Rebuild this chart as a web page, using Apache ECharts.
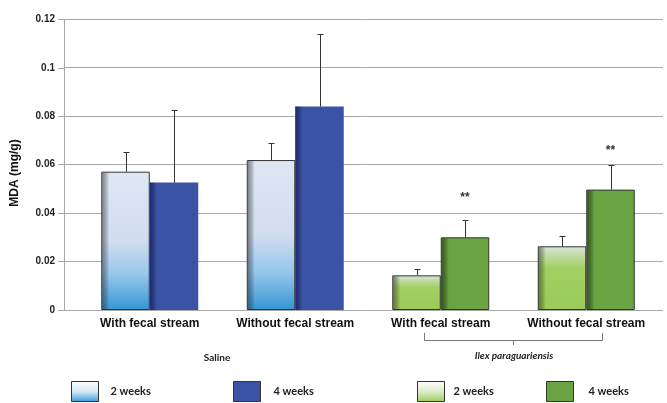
<!DOCTYPE html>
<html>
<head>
<meta charset="utf-8">
<script src="https://cdn.jsdelivr.net/npm/echarts@6/dist/echarts.min.js"></script>
<style>
html,body{margin:0;padding:0;background:#fff;}
#chart{width:667px;height:403px;}
</style>
</head>
<body>
<div id="chart"></div>
<script>
// ---- data ----
const categories = ['With fecal stream', 'Without fecal stream', 'With fecal stream', 'Without fecal stream'];
const saline2w = [0.0571, 0.0619, null, null];
const saline4w = [0.0526, 0.0840, null, null];
const ilex2w = [null, null, 0.0143, 0.0263];
const ilex4w = [null, null, 0.0300, 0.0497];
const err2w = [0.0080, 0.0071, 0.0025, 0.0043];
const err4w = [0.0300, 0.0301, 0.0072, 0.0102];
const sigMarks = ['', '', '**', '**'];
const sigY = [null, null, 0.0464, 0.0656];
const yMin = 0, yMax = 0.12, yInterval = 0.02;
const groupLabels = ['Saline', 'Ilex paraguariensis'];
const legendLabels = ['2 weeks', '4 weeks', '2 weeks', '4 weeks'];

// ---- rendering ----
const BAR_W = 48.5;
const chart = echarts.init(document.getElementById('chart'));
const G = echarts.graphic;
const vGrad = stops => new G.LinearGradient(0, 0, 0, 1, stops.map(s => ({offset: s[0], color: s[1]})));
const hGrad = c => new G.LinearGradient(0, 0, 1, 0, [{offset: 0, color: c}, {offset: 1, color: 'rgba(0,0,0,0)'}]);

const colSal2 = vGrad([[0, '#dfe7f4'], [0.5, '#d2dcef'], [0.74, '#97c8eb'], [1, '#3795d4']]);
const colSal4 = '#3a53a5';
const colIlex2 = vGrad([[0, '#d9e4dc'], [0.33, '#a3d064'], [1, '#9acb58']]);
const colIlex4 = '#6aa342';

const legSal2 = vGrad([[0, '#ffffff'], [0.5, '#d6e8f7'], [1, '#3b9bd8']]);
const legIlex2 = vGrad([[0, '#ffffff'], [0.5, '#dbeccb'], [1, '#9ccc5a']]);

const seriesDefs = [
  {name: 'Saline 2 weeks', data: saline2w, stack: 'w2', color: colSal2, border: '#333', edge: 'rgba(50,55,65,0.55)', side: -1, leg: legSal2, legIdx: 0},
  {name: 'Ilex 2 weeks', data: ilex2w, stack: 'w2', color: colIlex2, border: '#333', edge: 'rgba(40,60,35,0.55)', side: -1, leg: legIlex2, legIdx: 2},
  {name: 'Saline 4 weeks', data: saline4w, stack: 'w4', color: colSal4, border: null, edge: 'rgba(20,25,110,0.7)', side: 1, leg: colSal4, legIdx: 1},
  {name: 'Ilex 4 weeks', data: ilex4w, stack: 'w4', color: colIlex4, border: '#333', edge: 'rgba(30,55,20,0.65)', side: 1, leg: colIlex4, legIdx: 3}
];

const series = seriesDefs.map(d => ({
  type: 'bar', name: d.name, xAxisIndex: 1, yAxisIndex: 1,
  data: d.data, stack: d.stack, barWidth: BAR_W, barGap: '0%',
  itemStyle: {color: d.color, borderColor: d.border || 'transparent', borderWidth: d.border ? 1 : 0},
  silent: true
}));

// left-edge shading overlay
const edgeData = [];
seriesDefs.forEach((d, si) => d.data.forEach((v, i) => { if (v != null) edgeData.push([i, v, d.side, si]); }));
series.push({
  type: 'custom', xAxisIndex: 1, yAxisIndex: 1, silent: true, z: 3,
  data: edgeData,
  renderItem: (params, api) => {
    const idx = api.value(0), v = api.value(1), side = api.value(2), si = api.value(3);
    const p0 = api.coord([idx, 0]), p1 = api.coord([idx, v]);
    const x = side < 0 ? p0[0] - BAR_W : p0[0];
    const off = seriesDefs[si].border ? 1 : 0;
    return {type: 'rect', shape: {x: x + off, y: p1[1] + off, width: 7, height: p0[1] - p1[1] - off},
      style: {fill: hGrad(seriesDefs[si].edge)}};
  }
});

// error bars (upper only)
const errData = [];
categories.forEach((c, i) => {
  const v2 = saline2w[i] != null ? saline2w[i] : ilex2w[i];
  const v4 = saline4w[i] != null ? saline4w[i] : ilex4w[i];
  errData.push([i, v2, v2 + err2w[i], -1]);
  errData.push([i, v4, v4 + err4w[i], 1]);
});
series.push({
  type: 'custom', xAxisIndex: 1, yAxisIndex: 1, silent: true, z: 4,
  data: errData,
  renderItem: (params, api) => {
    const idx = api.value(0), base = api.value(1), top = api.value(2), side = api.value(3);
    const p0 = api.coord([idx, base]), p1 = api.coord([idx, top]);
    const x = Math.round(p0[0] + side * BAR_W / 2) + 0.5;
    const yt = Math.round(p1[1]) + 0.5;
    return {type: 'group', children: [
      {type: 'line', shape: {x1: x, y1: p0[1], x2: x, y2: yt}, style: {stroke: '#333', lineWidth: 1}},
      {type: 'line', shape: {x1: x - 3, y1: yt, x2: x + 3, y2: yt}, style: {stroke: '#333', lineWidth: 1}}
    ]};
  }
});

// significance marks
const sigData = [];
sigY.forEach((y, i) => { if (y != null) sigData.push([i, y, i]); });
series.push({
  type: 'custom', xAxisIndex: 1, yAxisIndex: 1, silent: true, z: 5,
  data: sigData,
  renderItem: (params, api) => {
    const idx = api.value(0), y = api.value(1);
    const p = api.coord([idx, y]);
    return {type: 'text', x: p[0] + BAR_W / 2, y: p[1],
      style: {text: sigMarks[api.value(2)], align: 'center', verticalAlign: 'middle',
        font: 'bold 12px "Liberation Sans", Arial, sans-serif', fill: '#333'}};
  }
});

const legendPos = [[71, 7], [233, 8], [417, 4], [546, 10]];
const legends = seriesDefs.map(d => ({
  left: legendPos[d.legIdx][0], top: 381, padding: 0, itemWidth: 27, itemHeight: 20,
  selectedMode: false,
  data: [{name: d.name, icon: 'rect', itemStyle: {color: d.leg, borderColor: '#333', borderWidth: 1}}],
  formatter: () => legendLabels[d.legIdx],
  textStyle: {fontFamily: 'Lato, "Noto Sans", sans-serif', fontWeight: 'bold', fontSize: 11, color: '#222',
    padding: [0, 0, 0, legendPos[d.legIdx][1]]}
}));

chart.setOption({
  animation: false,
  backgroundColor: '#fff',
  grid: [
    {left: 64, right: 4, top: 19.3, bottom: 93},
    {left: 77, right: 8, top: 19.3, bottom: 93}
  ],
  xAxis: [
    {gridIndex: 0, type: 'category', data: ['a'], show: false},
    {gridIndex: 1, type: 'category', data: categories.map((c, i) => String(i)),
      axisLine: {show: false}, axisTick: {show: false},
      axisLabel: {formatter: (v) => categories[+v], margin: 8, interval: 0,
        fontFamily: '"Liberation Sans", Arial, sans-serif', fontWeight: 'bold', fontSize: 12, color: '#111'}}
  ],
  yAxis: [
    {gridIndex: 0, type: 'value', min: yMin, max: yMax, interval: yInterval,
      axisLine: {show: true, lineStyle: {color: '#a8a8a8'}},
      axisTick: {show: true, length: 6, lineStyle: {color: '#a8a8a8'}},
      splitLine: {show: true, lineStyle: {color: '#a8a8a8'}},
      axisLabel: {margin: 9, formatter: v => String(parseFloat(v.toFixed(2))),
        fontFamily: '"Liberation Sans", Arial, sans-serif', fontWeight: 'bold', fontSize: 10, color: '#222'}},
    {gridIndex: 1, type: 'value', min: yMin, max: yMax, interval: yInterval, show: false, splitLine: {show: false}}
  ],
  legend: legends,
  series: series,
  graphic: [
    {type: 'text', x: 15, y: 173, rotation: Math.PI / 2,
      style: {text: 'MDA (mg/g)', align: 'center', verticalAlign: 'middle',
        font: 'bold 12px "Liberation Sans", Arial, sans-serif', fill: '#111'}},
    {type: 'text', x: 217, y: 358,
      style: {text: groupLabels[0], align: 'center', verticalAlign: 'middle',
        font: 'bold 10px Lato, "Noto Sans", sans-serif', fill: '#222'}},
    {type: 'text', x: 514, y: 356,
      style: {text: groupLabels[1], align: 'center', verticalAlign: 'middle',
        font: 'italic bold 10px Lato, "Noto Sans", sans-serif', fill: '#222'}},
    {type: 'polyline', shape: {points: [[424.5, 333], [424.5, 340.5], [602.5, 340.5], [602.5, 333]]},
      style: {stroke: '#777', lineWidth: 1, fill: null}},
    {type: 'line', shape: {x1: 513.5, y1: 340.5, x2: 513.5, y2: 345}, style: {stroke: '#777', lineWidth: 1}}
  ]
});
</script>
</body>
</html>
